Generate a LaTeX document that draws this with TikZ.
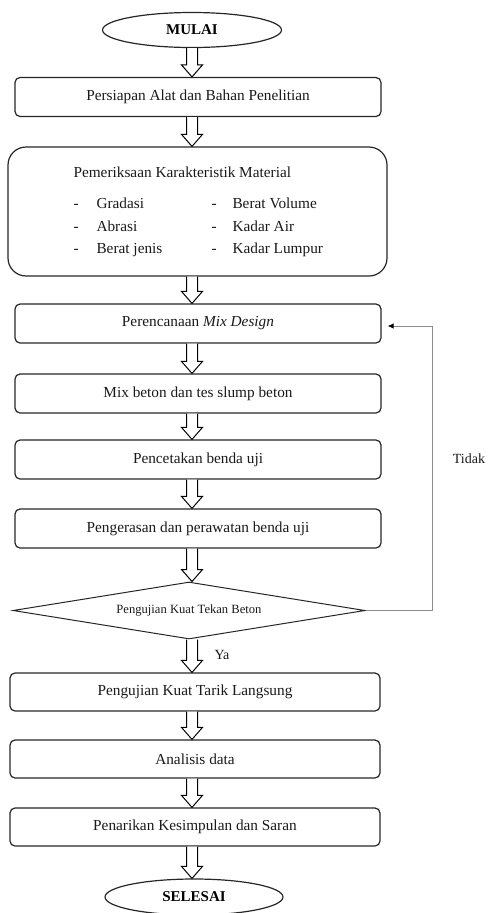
\documentclass[tikz,border=0pt]{standalone}
\usepackage{fontspec}
\setmainfont{Liberation Serif}
\usetikzlibrary{shapes.geometric,arrows.meta,calc}
\begin{document}
\begin{tikzpicture}[x=1pt,y=-1pt,
  txt/.style={font=\fontsize{15.3}{18}\selectfont, text=black!90},
  procbox/.style={draw=black!85, line width=1.2pt, rounded corners=5pt, minimum width=366pt, minimum height=39pt, inner sep=0pt, txt},
  terminal/.style={draw=black!85, line width=1.2pt, ellipse, minimum width=179pt, minimum height=35pt, inner sep=0pt, font=\fontsize{15}{18}\selectfont\bfseries},
  decision/.style={draw=black!85, line width=1pt, diamond, shape aspect=6.18, minimum width=352pt, minimum height=57pt, inner sep=0pt, font=\fontsize{12.6}{15}\selectfont, text=black!90},
  blockarrow/.style={draw=black, line width=1pt, fill=white, to path={let \p1=(\tikztostart), \p2=(\tikztotarget) in
    (\x1-5.5pt,\y1) -- (\x1-5.5pt,\y2+12pt) -- (\x1-10.5pt,\y2+12pt) -- (\x1,\y2) -- (\x1+10.5pt,\y2+12pt) -- (\x1+5.5pt,\y2+12pt) -- (\x1+5.5pt,\y1)}},
  feedback/.style={draw=black!45, line width=1pt, -{Latex[length=6pt,width=5.5pt,color=black]}},
  lbl/.style={font=\fontsize{14}{17}\selectfont, text=black!90}
]
\useasboundingbox (0,0) rectangle (494,913);
\coordinate (axis) at (192,0);
\coordinate (fbx) at (432,0);

\node[terminal] (mulai) at (192,30) {MULAI};
\node[procbox] (persiapan) at (198,97) {Persiapan Alat dan Bahan Penelitian};
\node[draw=black!85, line width=1.2pt, rounded corners=18pt, minimum width=379pt, minimum height=129pt, inner sep=0pt] (material) at (197.5,211.5) {};
\node[txt, anchor=base west] (mtitle) at (70,177) {Pemeriksaan Karakteristik Material};
\node[txt, anchor=base west] (d1) at (70,208) {-};
\node[txt, anchor=base west] (i1) at (93,208) {Gradasi};
\node[txt, anchor=base west] (d2) at (70,231) {-};
\node[txt, anchor=base west] (i2) at (93,231) {Abrasi};
\node[txt, anchor=base west] (d3) at (70,253) {-};
\node[txt, anchor=base west] (i3) at (93,253) {Berat jenis};
\node[txt, anchor=base west] (d4) at (208,208) {-};
\node[txt, anchor=base west] (i4) at (229,208) {Berat Volume};
\node[txt, anchor=base west] (d5) at (208,231) {-};
\node[txt, anchor=base west] (i5) at (229,231) {Kadar Air};
\node[txt, anchor=base west] (d6) at (208,253) {-};
\node[txt, anchor=base west] (i6) at (229,253) {Kadar Lumpur};

\node[procbox] (perenc) at (198,323.5) {Perencanaan \textit{Mix Design}};
\node[procbox] (mix) at (198,393.5) {Mix beton dan tes slump beton};
\node[procbox] (cetak) at (198,459.5) {Pencetakan benda uji};
\node[procbox] (keras) at (198,528.5) {Pengerasan dan perawatan benda uji};
\node[decision] (uji) at (189,610.5) {Pengujian Kuat Tekan Beton};
\node[procbox, minimum width=370pt, minimum height=38pt] (tarik) at (195,692) {Pengujian Kuat Tarik Langsung};
\node[procbox, minimum width=370pt, minimum height=38pt] (analisis) at (195,759) {Analisis data};
\node[procbox, minimum width=370pt, minimum height=38pt] (saran) at (195,827) {Penarikan Kesimpulan dan Saran};
\node[terminal, minimum width=178pt, minimum height=36pt] (selesai) at (194,897) {SELESAI};

\draw[blockarrow] (mulai.south -| axis) to (persiapan.north -| axis);
\draw[blockarrow] (persiapan.south -| axis) to (material.north -| axis);
\draw[blockarrow] (material.south -| axis) to (perenc.north -| axis);
\draw[blockarrow] (perenc.south -| axis) to (mix.north -| axis);
\draw[blockarrow] (mix.south -| axis) to (cetak.north -| axis);
\draw[blockarrow] (cetak.south -| axis) to (keras.north -| axis);
\draw[blockarrow] (keras.south -| axis) to (uji.north -| axis);
\draw[blockarrow] (uji.south -| axis) to (tarik.north -| axis);
\draw[blockarrow] (tarik.south -| axis) to (analisis.north -| axis);
\draw[blockarrow] (analisis.south -| axis) to (saran.north -| axis);
\draw[blockarrow] (saran.south -| axis) to (selesai.north -| axis);

\draw[feedback] (uji.east) -- (uji.east -| fbx) -- ($(perenc.east -| fbx)+(0,2.5)$) -- ($(perenc.east)+(6,2.5)$);
\node[lbl] (tidak) at (469,459) {Tidak};
\node[lbl, anchor=west] (ya) at (211,655) {Ya};
\end{tikzpicture}
\end{document}
